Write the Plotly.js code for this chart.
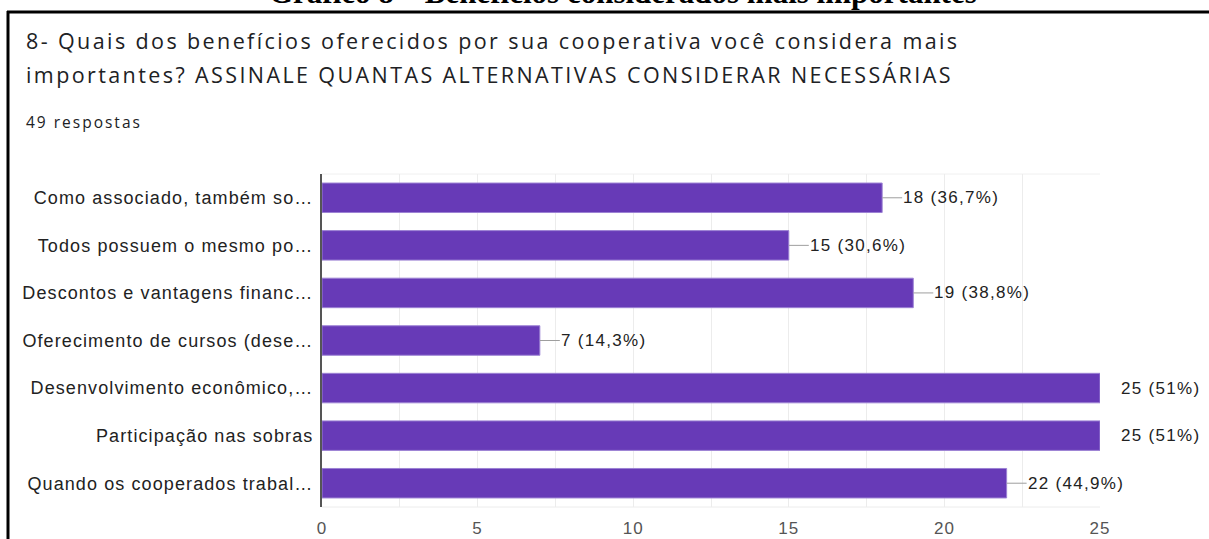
<!DOCTYPE html>
<html>
<head>
<meta charset="utf-8">
<script src="https://cdn.plot.ly/plotly-3.0.1.min.js"></script>
<style>
  html, body { margin: 0; padding: 0; background: #fff; }
  #chart { width: 1209px; height: 539px; }
  #chart .ytick text { letter-spacing: 1.1px; }
  #chart .xtick text { letter-spacing: 1px; }
</style>
</head>
<body>
<div id="chart"></div>
<script>
// ---- data ----
const categories = [
  "Como associado, também so…",
  "Todos possuem o mesmo po…",
  "Descontos e vantagens financ…",
  "Oferecimento de cursos (dese…",
  "Desenvolvimento econômico,…",
  "Participação nas sobras",
  "Quando os cooperados trabal…"
];
const counts = [18, 15, 19, 7, 25, 25, 22];
const valueLabels = ["18 (36,7%)", "15 (30,6%)", "19 (38,8%)", "7 (14,3%)", "25 (51%)", "25 (51%)", "22 (44,9%)"];
const captionText = "Gráfico 8 – Benefícios considerados mais importantes";
const titleLine1 = "8- Quais dos benefícios oferecidos por sua cooperativa você considera mais";
const titleLine2 = "importantes? ASSINALE QUANTAS ALTERNATIVAS CONSIDERAR NECESSÁRIAS";
const subtitleText = "49 respostas";

// ---- layout helpers (pixel -> paper) ----
const W = 1209, H = 539;
const M = { l: 322, r: 109, t: 174, b: 32 };
const PW = W - M.l - M.r, PH = H - M.t - M.b;
const px = x => (x - M.l) / PW;
const py = y => (H - M.b - y) / PH;
const xMax = Math.max(...counts);
const spaced = (t, s) => `<span style="letter-spacing:${s}px">${t}</span>`;

const trace = {
  type: "bar",
  orientation: "h",
  y: categories,
  x: counts,
  marker: { color: "#673ab7", line: { color: "#9c82d4", width: 1 } },
  hoverinfo: "x+y"
};

const labelAnns = categories.map((c, i) => ({
  x: counts[i], y: c, xref: "x", yref: "y",
  text: spaced(valueLabels[i], 1.3),
  showarrow: true, arrowhead: 0, arrowwidth: 1,
  arrowcolor: counts[i] === xMax ? "rgba(0,0,0,0)" : "#9e9e9e",
  ax: 20, ay: 0, xanchor: "left", yanchor: "middle",
  borderpad: 0,
  font: { family: "Liberation Sans, Arial, sans-serif", size: 17, color: "#222" }
}));

const textAnns = [
  { text: captionText, x: px(623), y: py(-7), xanchor: "center", yanchor: "middle",
    font: { family: "Liberation Serif, Times New Roman, serif", size: 31, color: "#000", weight: 700 } },
  { text: spaced(titleLine1, 2.4), x: px(24), y: py(40), xanchor: "left", yanchor: "middle",
    font: { family: "Open Sans, sans-serif", size: 21.5, color: "#202124" } },
  { text: spaced(titleLine2, 2.4), x: px(24), y: py(75), xanchor: "left", yanchor: "middle",
    font: { family: "Open Sans, sans-serif", size: 21.5, color: "#202124" } },
  { text: spaced(subtitleText, 2), x: px(24), y: py(122), xanchor: "left", yanchor: "middle",
    font: { family: "Open Sans, sans-serif", size: 15.5, color: "#202124" } }
].map(a => Object.assign({ xref: "paper", yref: "paper", showarrow: false }, a));

const layout = {
  width: W, height: H,
  margin: M,
  paper_bgcolor: "#fff",
  plot_bgcolor: "#fff",
  showlegend: false,
  bargap: 0.38,
  xaxis: {
    range: [0, 25],
    dtick: 5, tick0: 0,
    showgrid: true, gridcolor: "#ececec", gridwidth: 1,
    minor: { dtick: 2.5, showgrid: true, gridcolor: "#ececec", gridwidth: 1 },
    zeroline: false, showline: false,
    ticks: "", ticklabelstandoff: 9,
    tickfont: { family: "Liberation Sans, Arial, sans-serif", size: 17, color: "#555" },
    fixedrange: true
  },
  yaxis: {
    autorange: "reversed",
    showline: true, linecolor: "#555", linewidth: 2,
    showgrid: false, zeroline: false,
    ticks: "", ticklabelstandoff: 3,
    tickfont: { family: "Liberation Sans, Arial, sans-serif", size: 18, color: "#222" },
    fixedrange: true
  },
  annotations: labelAnns.concat(textAnns),
  shapes: [
    { type: "line", xref: "paper", yref: "paper", x0: px(7), x1: px(1209), y0: py(12), y1: py(12),
      line: { color: "#000", width: 3 } },
    { type: "line", xref: "paper", yref: "paper", x0: px(8), x1: px(8), y0: py(11), y1: py(539),
      line: { color: "#000", width: 3 } },
    { type: "line", xref: "paper", yref: "paper", x0: 0, x1: 1, y0: 0, y1: 0,
      line: { color: "#ececec", width: 1 }, layer: "below" },
    { type: "line", xref: "paper", yref: "paper", x0: 0, x1: 1, y0: 1, y1: 1,
      line: { color: "#f0f0f0", width: 1 }, layer: "below" }
  ]
};

Plotly.newPlot("chart", [trace], layout, { displayModeBar: false });
</script>
</body>
</html>
